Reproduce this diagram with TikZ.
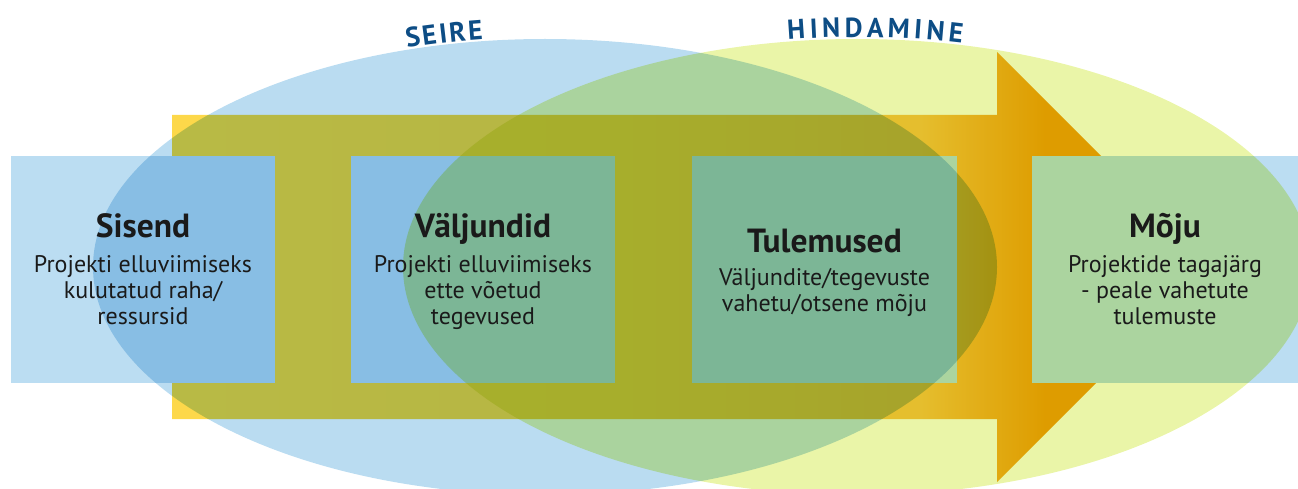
\documentclass[tikz,border=0pt]{standalone}
\usepackage{fontspec}
\setmainfont{PT Sans}
\definecolor{boxblue}{RGB}{187,221,242}
\definecolor{ellblue}{RGB}{186,220,241}
\definecolor{ellyellow}{RGB}{234,245,168}
\definecolor{txt}{RGB}{26,26,26}
\definecolor{titleblue}{RGB}{13,77,133}
\definecolor{ay}{RGB}{253,216,74}
\definecolor{ay2}{RGB}{252,212,72}
\definecolor{am}{RGB}{250,198,70}
\definecolor{ao}{RGB}{243,163,0}
\pgfdeclarehorizontalshading{arrowsh}{100bp}{color(0bp)=(ay); color(25bp)=(ay); color(45.5bp)=(ay2); color(61bp)=(am); color(67bp)=(ao); color(100bp)=(ao)}
\begin{document}
\begin{tikzpicture}[x=1pt,y=1pt,
  box/.style={fill=boxblue, draw=none, inner sep=0pt, outer sep=0pt, minimum height=227pt, anchor=south west},
  title/.style={anchor=base, inner sep=0pt, text=txt, font=\fontsize{33.5}{33.5}\selectfont\bfseries},
  body/.style={anchor=base, inner sep=0pt, text=txt, font=\fontsize{24}{26}\selectfont},
  lbl/.style={anchor=base, inner sep=0pt, text=titleblue, font=\fontsize{27.5}{27.5}\selectfont\bfseries}]
\useasboundingbox (0,0) rectangle (1298,488);
% arrow
\shade[shading=arrowsh] (172,69) -- (997,69) -- (997,6) -- (1212,221) -- (997,436) -- (997,373) -- (172,373) -- cycle;
% boxes
\node[box, minimum width=264pt] (sisendbox) at (11,105) {};
\node[box, minimum width=264pt] (valjbox) at (351,105) {};
\node[box, minimum width=265pt] (tulbox) at (692,105) {};
\node[box, minimum width=266pt] (mojubox) at (1032,105) {};
% ellipses
\begin{scope}[blend mode=multiply]
\fill[ellblue] (545,221) ellipse[x radius=452, y radius=228];
\fill[ellyellow] (857,221) ellipse[x radius=454, y radius=228];
\end{scope}
% texts
\node[title] (t1) at (143,251) {Sisend};
\node[body] (s1) at (143,216) {Projekti elluviimiseks};
\node[body] (s2) at (143,190) {kulutatud raha/};
\node[body] (s3) at (143,164) {ressursid};
\node[title] (t2) at (483,251) {Väljundid};
\node[body] (v1) at (483,216) {Projekti elluviimiseks};
\node[body] (v2) at (483,190) {ette võetud};
\node[body] (v3) at (483,164) {tegevused};
\node[title] (t3) at (824.5,236) {Tulemused};
\node[body] (u1) at (824.5,203) {Väljundite/tegevuste};
\node[body] (u2) at (824.5,177) {vahetu/otsene mõju};
\node[title] (t4) at (1165,251) {Mõju};
\node[body] (m1) at (1165,216) {Projektide tagajärg};
\node[body] (m2) at (1165,190) {- peale vahetute};
\node[body] (m3) at (1165,164) {tulemuste};
% curved labels
\foreach \ch/\xc [count=\i] in {S/414.2,E/430.6,I/444.3,R/458.4,E/476.1}{
  \pgfmathsetmacro\ct{(\xc-545)/452}
  \pgfmathsetmacro\st{sqrt(1-\ct*\ct)}
  \pgfmathsetmacro\ang{atan2(-230*\ct,452*\st)}
  \node[lbl, rotate=\ang] (seire\i) at (\xc,{221+230*\st}) {\ch};
}
\foreach \ch/\xc [count=\i] in {H/796.9,I/814.2,N/831.5,D/853.7,A/875.1,M/898.3,I/917.5,N/934.8,E/955.1}{
  \pgfmathsetmacro\ct{(\xc-857)/454}
  \pgfmathsetmacro\st{sqrt(1-\ct*\ct)}
  \pgfmathsetmacro\ang{atan2(-230*\ct,454*\st)}
  \node[lbl, rotate=\ang] (hind\i) at (\xc,{221+230*\st}) {\ch};
}
\end{tikzpicture}
\end{document}
